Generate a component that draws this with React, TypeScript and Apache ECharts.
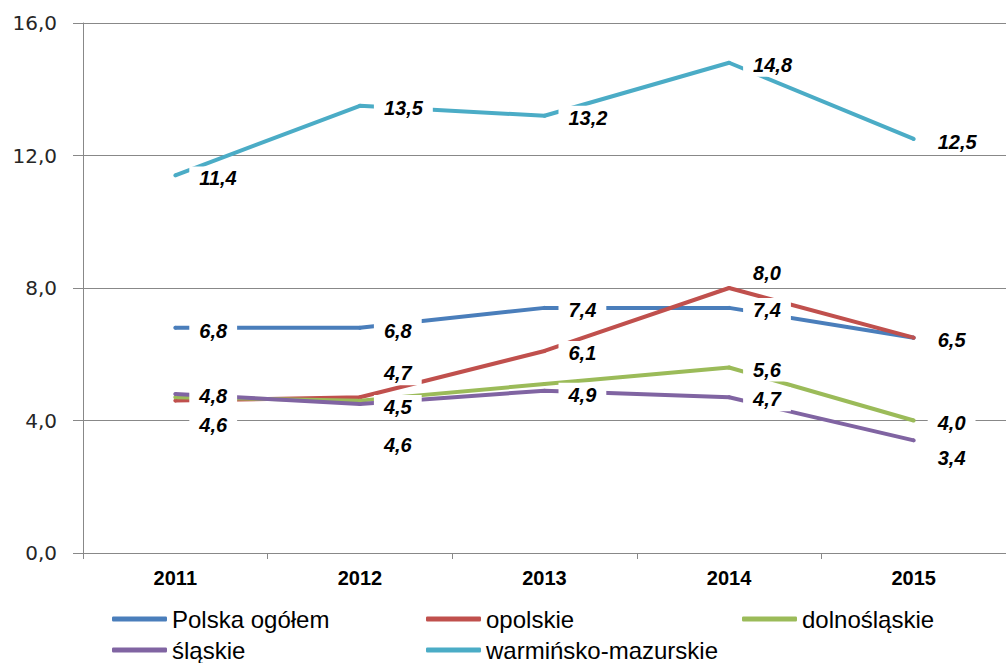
import React, { useEffect, useRef } from "react";
import * as echarts from "echarts";

const years = ["2011", "2012", "2013", "2014", "2015"];
const seriesNames = ["Polska ogółem", "opolskie", "dolnośląskie", "śląskie", "warmińsko-mazurskie"];
const polska = [6.8, 6.8, 7.4, 7.4, 6.5];
const opolskie = [4.6, 4.7, 6.1, 8.0, 6.5];
const dolnoslaskie = [4.7, 4.6, 5.1, 5.6, 4.0];
const slaskie = [4.8, 4.5, 4.9, 4.7, 3.4];
const warminsko = [11.4, 13.5, 13.2, 14.8, 12.5];
const yTicks = { min: 0, max: 16, interval: 4 };

const colors = ["#4A7EBB", "#C0504D", "#9BBB59", "#8064A2", "#4BACC6"];

// label vertical adjustments (styling only): null = label hidden
const labelDy: (number | null)[][] = [
  [3, 3, 2, 2, 2],
  [24, -24, 2, -15, null],
  [null, 44, null, 2, 2],
  [2, 3, 4, 2, 18],
  [3, 2, 2, 2, 3],
];

const legendPos = [
  { left: 112, top: 607 },
  { left: 426, top: 607 },
  { left: 742, top: 607 },
  { left: 112, top: 638 },
  { left: 426, top: 638 },
];

const fmt = (v: number) => v.toFixed(1).replace(".", ",");
const ARIAL = "'Liberation Sans', Arial, sans-serif";

export default function App() {
  const ref = useRef<HTMLDivElement>(null);
  useEffect(() => {
    if (!ref.current) return;
    const chart = echarts.init(ref.current, undefined, { renderer: "svg" });
    const all = [polska, opolskie, dolnoslaskie, slaskie, warminsko];
    const series = all.map((vals, si) => ({
      name: seriesNames[si],
      type: "line",
      data: vals.map((v, i) => {
        const dy = labelDy[si][i];
        return {
          value: v,
          label: dy === null ? { show: false } : { show: true, offset: [0, dy] },
        };
      }),
      symbol: "circle",
      symbolSize: 4,
      itemStyle: { color: colors[si] },
      lineStyle: { color: colors[si], width: 4 },
      label: {
        show: true,
        position: "right",
        distance: 12,
        formatter: (p: any) => fmt(p.value),
        fontSize: 20,
        fontWeight: "bold",
        fontStyle: "italic",
        fontFamily: ARIAL,
        color: "#000",
        backgroundColor: "#fff",
        padding: [1, 10, 1, 10],
        lineHeight: 22,
      },
      emphasis: { disabled: true },
    }));
    const legends = seriesNames.map((n, i) => ({
      data: [n],
      left: legendPos[i].left,
      top: legendPos[i].top,
      padding: 0,
      icon: "roundRect",
      itemWidth: 55,
      itemHeight: 5,
      textStyle: { fontSize: 24, fontFamily: ARIAL, color: "#000" },
      selectedMode: false,
    }));
    chart.setOption({
      animation: false,
      backgroundColor: "#fff",
      grid: { left: 83, right: -17, top: 23, bottom: 110, containLabel: false },
      legend: legends,
      xAxis: {
        type: "category",
        data: years,
        boundaryGap: true,
        axisLine: { show: true, lineStyle: { color: "#888", width: 1 } },
        axisTick: { show: true, length: 6, lineStyle: { color: "#888" } },
        axisLabel: {
          fontSize: 20,
          fontWeight: "bold",
          fontFamily: ARIAL,
          color: "#000",
          margin: 15,
        },
      },
      yAxis: {
        type: "value",
        min: yTicks.min,
        max: yTicks.max,
        interval: yTicks.interval,
        axisLine: { show: true, lineStyle: { color: "#888", width: 1 } },
        axisTick: { show: true, length: 10, lineStyle: { color: "#888" } },
        splitLine: { show: true, lineStyle: { color: "#888", width: 1 } },
        axisLabel: {
          formatter: (v: number) => fmt(v),
          fontSize: 20,
          fontFamily: "'DejaVu Sans', sans-serif",
          color: "#262626",
          margin: 26,
        },
      },
      series,
    });
    return () => chart.dispose();
  }, []);
  return (
    <div
      ref={ref}
      style={{ position: "fixed", left: 0, top: 0, width: 1006, height: 663 }}
    />
  );
}
